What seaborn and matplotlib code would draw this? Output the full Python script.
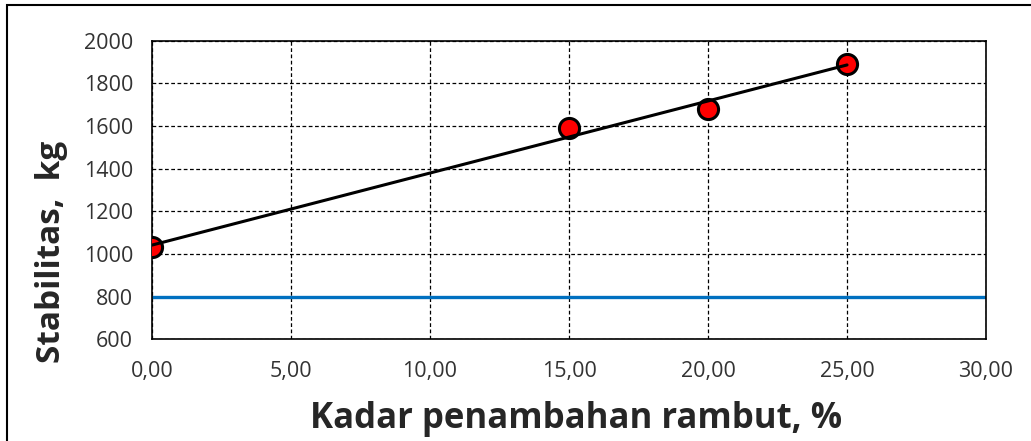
import numpy as np
import pandas as pd
import seaborn as sns
import matplotlib.pyplot as plt
from matplotlib.ticker import FuncFormatter, MultipleLocator
from matplotlib.patches import Rectangle

# data
kadar = [0, 15, 20, 25]
stabilitas = [1033, 1589, 1680, 1892]
batas_min = 800  # blue reference line

df = pd.DataFrame({"kadar": kadar, "stabilitas": stabilitas})

# linear trendline like excel
slope, intercept = np.polyfit(df["kadar"], df["stabilitas"], 1)
trend = pd.DataFrame({"kadar": [min(kadar), max(kadar)]})
trend["stabilitas"] = intercept + slope * trend["kadar"]

sns.set_style("white")
plt.rcParams["font.family"] = ["Open Sans", "DejaVu Sans"]

fig = plt.figure(figsize=(10.31, 4.41), dpi=100)
ax = fig.add_axes([0.1474, 0.2306, 0.8090, 0.6771])

ax.axhline(batas_min, color="#0070C0", lw=2.4, zorder=2)
sns.scatterplot(data=df, x="kadar", y="stabilitas", ax=ax, s=210, color="#FF0000",
                edgecolor="black", linewidth=2.2, zorder=4)
sns.lineplot(data=trend, x="kadar", y="stabilitas", ax=ax, color="black", lw=2.2, zorder=5)

ax.set_xlim(0, 30)
ax.set_ylim(600, 2000)
ax.xaxis.set_major_locator(MultipleLocator(5))
ax.yaxis.set_major_locator(MultipleLocator(200))
ax.xaxis.set_major_formatter(FuncFormatter(lambda v, p: ("%.2f" % v).replace(".", ",")))

ax.grid(True, color="black", linestyle=(0, (3, 2)), lw=0.9)
for s in ax.spines.values():
    s.set_color("black")
    s.set_linewidth(1.2)
ax.tick_params(axis="both", direction="out", length=6.5, width=1.2, color="black",
               labelsize=15.5, labelcolor="#333333")
ax.tick_params(axis="y", pad=7)
ax.tick_params(axis="x", pad=9)

ax.set_xlabel("Kadar penambahan rambut, %", fontsize=25, fontweight="bold")
ax.set_ylabel("Stabilitas,  kg", fontsize=24, fontweight="bold")
# labels are a bit off-centre in the original
ax.xaxis.set_label_coords(0.508, -0.205)
ax.yaxis.set_label_coords(-0.101, 0.292)

# outer chart frame
fig.patches.append(Rectangle((7 / 1031, -0.1), 1.1, 1 - 5 / 441 + 0.1, transform=fig.transFigure,
                             fill=False, edgecolor="black", lw=1.5))

fig.savefig("out.png", dpi=100)
